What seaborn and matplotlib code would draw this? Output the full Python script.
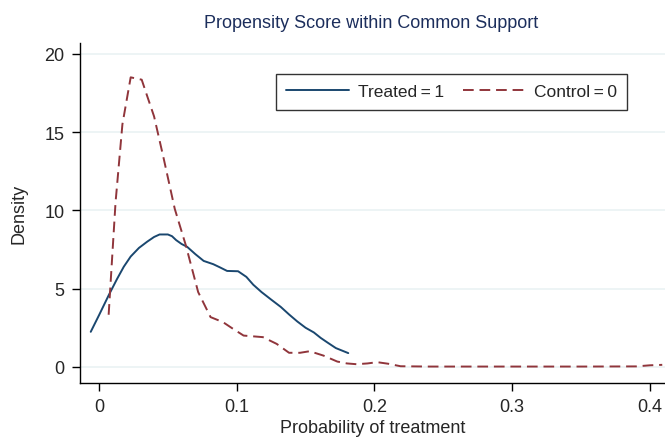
import numpy as np
import pandas as pd
import matplotlib
matplotlib.use("Agg")
import matplotlib.pyplot as plt
import seaborn as sns

# density curves
treated_x = [-0.006, 0.0, 0.007, 0.013, 0.018, 0.023, 0.029, 0.035, 0.040, 0.044, 0.050,
             0.053, 0.056, 0.060, 0.064, 0.070, 0.076, 0.083, 0.088, 0.093, 0.101, 0.107,
             0.112, 0.118, 0.125, 0.132, 0.138, 0.144, 0.150, 0.156, 0.161, 0.166, 0.172, 0.181]
treated_y = [2.24, 3.3, 4.57, 5.6, 6.4, 7.05, 7.6, 8.0, 8.3, 8.46, 8.46,
             8.35, 8.1, 7.85, 7.67, 7.2, 6.77, 6.56, 6.35, 6.13, 6.11, 5.75,
             5.25, 4.78, 4.3, 3.83, 3.35, 2.9, 2.5, 2.2, 1.85, 1.55, 1.2, 0.88]

control_x = [0.007, 0.012, 0.017, 0.023, 0.031, 0.035, 0.040, 0.047, 0.055, 0.063,
             0.072, 0.081, 0.090, 0.097, 0.105, 0.112, 0.119, 0.129, 0.138, 0.146,
             0.153, 0.163, 0.173, 0.180, 0.187, 0.195, 0.202, 0.210, 0.219, 0.240,
             0.300, 0.350, 0.390, 0.400, 0.409]
control_y = [3.33, 10.5, 15.5, 18.5, 18.35, 17.3, 16.0, 13.3, 10.1, 7.78,
             4.78, 3.18, 2.86, 2.45, 2.0, 1.95, 1.9, 1.47, 0.9, 0.9,
             1.0, 0.72, 0.34, 0.22, 0.17, 0.22, 0.3, 0.2, 0.04, 0.02,
             0.02, 0.02, 0.03, 0.1, 0.13]

x_ticks = [0, 0.1, 0.2, 0.3, 0.4]
x_tick_labels = ["0", "0.1", "0.2", "0.3", "0.4"]
y_ticks = [0, 5, 10, 15, 20]

navy = "#1a476f"
maroon = "#90353b"

sns.set_style("white")
plt.rcParams['font.family'] = ['Liberation Sans', 'DejaVu Sans']

df_t = pd.DataFrame({"x": treated_x, "y": treated_y})
df_c = pd.DataFrame({"x": control_x, "y": control_y})

fig = plt.figure(figsize=(6.65, 4.39), dpi=100)
ax = fig.add_axes([0.1203, 0.1253, 0.8797, 0.7747])

for yt in y_ticks:
    ax.axhline(yt, color="#eaf2f3", lw=1.2, zorder=0)

sns.lineplot(data=df_t, x="x", y="y", ax=ax, color=navy, lw=1.4,
             label="Treated\u2009=\u20091", sort=False, estimator=None)
sns.lineplot(data=df_c, x="x", y="y", ax=ax, color=maroon, lw=1.4,
             label="Control\u2009=\u20090", sort=False, estimator=None)
ax.lines[-1].set_dashes([5.5, 3])

ax.set_xlim(-0.0138, 0.411)
ax.set_ylim(-1.03, 20.7)
ax.set_xticks(x_ticks)
ax.set_xticklabels(x_tick_labels)
ax.set_yticks(y_ticks)
ax.tick_params(axis="both", which="both", direction="out", length=6, width=1,
               color="black", labelsize=13, pad=5, left=True, bottom=True)

for side in ["top", "right"]:
    ax.spines[side].set_visible(False)
for side in ["left", "bottom"]:
    ax.spines[side].set_color("black")
    ax.spines[side].set_linewidth(1)

ax.set_xlabel("Probability of treatment", fontsize=13, labelpad=3)
ax.set_ylabel("Density", fontsize=13, labelpad=12)
fig.suptitle("Propensity Score within Common Support", fontsize=13,
             color="#1c2e5c", x=0.558, y=0.965)

leg = ax.legend(loc="upper left", bbox_to_anchor=(0.335, 0.909), ncol=2,
                frameon=True, fancybox=False, fontsize=12.5, handlelength=3.6,
                handletextpad=0.5, columnspacing=1.1, borderpad=0.6,
                borderaxespad=0, edgecolor="black")
leg.get_frame().set_linewidth(1)

fig.savefig("out.png", dpi=100)
